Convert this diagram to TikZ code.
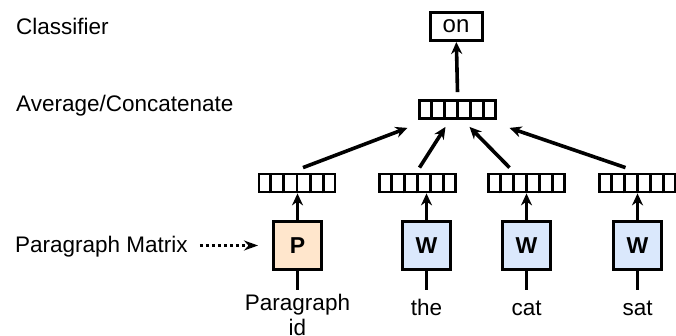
\documentclass[tikz,border=0pt]{standalone}
\usepackage{fontspec}
\setmainfont{Liberation Sans}
\usetikzlibrary{arrows.meta, positioning, calc}
\definecolor{pfill}{HTML}{FFE6CC}
\definecolor{wfill}{HTML}{DAE8FC}

\begin{document}
\begin{tikzpicture}[
        x=1pt, y=-1pt,
        txt/.style={inner sep=0pt, font=\fontsize{22.5}{25}\selectfont},
        vec/.style={draw, line width=2.8pt, minimum width=76pt, minimum height=18pt, inner sep=0pt},
        lookup/.style={draw, line width=3pt, minimum width=48pt, minimum height=47pt, inner sep=0pt, font=\fontsize{23}{26}\selectfont\bfseries},
        arrow/.style={-{Stealth[length=12pt, width=11pt]}, line width=3.6pt},
        stem/.style={line width=3.6pt}
    ]
    \useasboundingbox (0,0) rectangle (676,336);

    % Nodes
    \node[draw, line width=3pt, minimum width=52pt, minimum height=28pt, inner sep=0pt, font=\fontsize{24}{26}\selectfont] (on) at (456,26.5) {on};
    \node[vec] (avg) at (457.5,109.5) {};
    \node[vec] (vp) at (297,183) {};
    \node[vec] (vthe) at (417.5,183) {};
    \node[vec] (vcat) at (526.5,183) {};
    \node[vec] (vsat) at (637.5,183) {};
    \node[lookup, fill=pfill] (p) at (297.5,245.5) {P};
    \node[lookup, fill=wfill] (wthe) at (426.5,245.5) {W};
    \node[lookup, fill=wfill] (wcat) at (526.5,245.5) {W};
    \node[lookup, fill=wfill] (wsat) at (637.5,245.5) {W};
    \node[txt, anchor=base west] (cls) at (16,35) {Classifier};
    \node[txt, anchor=base west] (avgtxt) at (16,112) {Average/Concatenate};
    \node[txt, anchor=base west] (pm) at (15,253) {Paragraph Matrix};
    \node[txt, anchor=base, align=center] (lp) at (297.5,335) {Paragraph\\id};
    \node[txt, anchor=base] (lthe) at (426.5,315) {the};
    \node[txt, anchor=base] (lcat) at (526.5,315) {cat};
    \node[txt, anchor=base] (lsat) at (637.5,315) {sat};
    \coordinate (sp) at (297.5,290);
    \coordinate (sthe) at (426.5,290);
    \coordinate (scat) at (526.5,290);
    \coordinate (ssat) at (637.5,290);

    % Vector cells
    \foreach \v in {avg, vp, vthe, vcat, vsat}
        \foreach \i in {1,...,5}
            \draw[line width=2.8pt] ($(\v.south west)!\i/6!(\v.south east)$) -- ($(\v.north west)!\i/6!(\v.north east)$);

    % Connections
    \draw[arrow] ([yshift=7pt]avg.north) -- (on);
    \draw[arrow] ([xshift=6pt, yshift=5pt]vp.north) -- ([xshift=-50pt, yshift=-8pt]avg.south);
    \draw[arrow] ([xshift=2pt, yshift=5pt]vthe.north) -- ([xshift=-12pt, yshift=-7pt]avg.south);
    \draw[arrow] ([xshift=-17pt, yshift=5pt]vcat.north) -- ([xshift=12pt, yshift=-7pt]avg.south);
    \draw[arrow] ([xshift=-12pt, yshift=5pt]vsat.north) -- ([xshift=52pt, yshift=-8pt]avg.south);
    \foreach \w/\v in {p/vp, wthe/vthe, wcat/vcat, wsat/vsat}
        \draw[arrow] (\w.north) -- (\w.north |- \v.south);
    \foreach \w/\s in {p/sp, wthe/sthe, wcat/scat, wsat/ssat}
        \draw[stem] (\w.south) -- (\s);
    \draw[-{Stealth[length=14pt, width=10pt]}, line width=3pt, dash pattern=on 3pt off 3pt, shorten <=12pt, shorten >=14pt] (pm.east |- p.west) -- (p.west);

\end{tikzpicture}
\end{document}
